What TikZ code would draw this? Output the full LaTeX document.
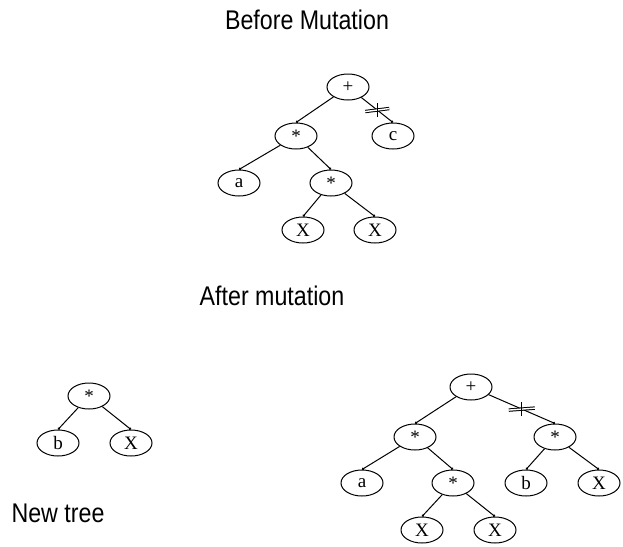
\documentclass[tikz,border=0pt]{standalone}
\usepackage{fontspec}
\setmainfont{Liberation Serif}
\newfontfamily\titlefont[FakeStretch=0.86]{Liberation Sans}
\usetikzlibrary{arrows.meta,shapes.geometric}
\newcommand{\starsym}{\raisebox{-4pt}{*}}
\begin{document}
\begin{tikzpicture}[x=1pt,y=-1pt,
  tn/.style={draw,ellipse,line width=1pt,minimum width=42pt,minimum height=26pt,inner sep=0pt,
    font=\fontsize{19}{19}\selectfont},
  edge/.style={line width=1pt,-{Circle[length=2.4pt]}},
  caption/.style={font=\titlefont\fontsize{27}{30}\selectfont,inner sep=0pt},
  cutbar/.style={line width=1pt,double,double distance=1.4pt},
  cutv/.style={line width=1.1pt}]
\useasboundingbox (0,0) rectangle (623,546);
\fill[white] (0,0) rectangle (623,546);

% titles
\node[caption] (t1) at (307,20) {Before Mutation};
\node[caption] (t2) at (272,296) {After mutation};
\node[caption] (t3) at (58,513) {New tree};

% before mutation tree
\node[tn] (p1) at (348,87) {+};
\node[tn] (m1) at (296,136) {\starsym};
\node[tn] (c1) at (393,136) {c};
\node[tn] (a1) at (239,183) {a};
\node[tn] (n1) at (331,183) {\starsym};
\node[tn] (x1) at (303,230) {X};
\node[tn] (x2) at (375,230) {X};
\draw[edge] (p1) -- (m1.north);
\draw[edge] (p1) -- coordinate[pos=0.5] (cutA) (c1.north);
\draw[edge] (m1) -- (a1.north);
\draw[edge] (m1) -- (n1.north);
\draw[edge] (n1) -- (x1.north);
\draw[edge] (n1) -- (x2.north);
\draw[cutbar] ([xshift=-12pt,yshift=-1.5pt]cutA) -- ([xshift=12pt,yshift=1.5pt]cutA);
\draw[cutv] ([yshift=-7pt]cutA) -- ([yshift=7pt]cutA);

% new tree
\node[tn] (q1) at (89,396) {\starsym};
\node[tn] (b1) at (58,443) {b};
\node[tn] (x3) at (131,443) {X};
\draw[edge] (q1) -- (b1.north);
\draw[edge] (q1) -- (x3.north);

% after mutation tree
\node[tn] (p2) at (471,387) {+};
\node[tn] (m2) at (415,437) {\starsym};
\node[tn] (r2) at (555,437) {\starsym};
\node[tn] (a2) at (362,483) {a};
\node[tn] (n2) at (453,483) {\starsym};
\node[tn] (b2) at (526,483) {b};
\node[tn] (x4) at (599,483) {X};
\node[tn] (x5) at (422,530) {X};
\node[tn] (x6) at (495,530) {X};
\draw[edge] (p2) -- (m2.north);
\draw[edge] (p2) -- coordinate[pos=0.5] (cutB) (r2.north);
\draw[edge] (m2) -- (a2.north);
\draw[edge] (m2) -- (n2.north);
\draw[edge] (n2) -- (x5.north);
\draw[edge] (n2) -- (x6.north);
\draw[edge] (r2) -- (b2.north);
\draw[edge] (r2) -- (x4.north);
\draw[cutbar] ([xshift=-13pt,yshift=-1pt]cutB) -- ([xshift=13pt,yshift=1pt]cutB);
\draw[cutv] ([yshift=-7pt]cutB) -- ([yshift=7pt]cutB);
\end{tikzpicture}
\end{document}
